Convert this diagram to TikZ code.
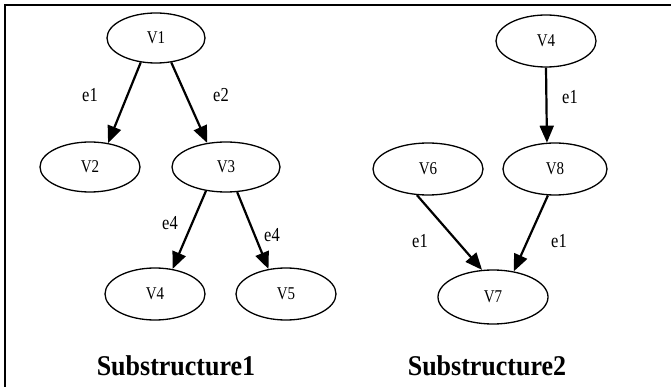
\documentclass[tikz,border=0pt]{standalone}
\usepackage{fontspec}
\setmainfont{Liberation Serif}
\usepackage{graphicx}
\usetikzlibrary{shapes.geometric,arrows.meta}
\newcommand{\vst}[1]{\scalebox{1}[1.2]{#1}}
\newcommand{\vtt}[1]{\scalebox{1}[1.1]{#1}}
\tikzset{
  vnode/.style={ellipse, draw, line width=1.3pt, inner sep=0pt, minimum width=100pt, minimum height=52pt, font=\fontsize{15}{15}\selectfont},
  edgearrow/.style={line width=2.2pt, -{Triangle[length=17pt,width=14pt]}},
  elabel/.style={font=\fontsize{16.5}{16.5}\selectfont, inner sep=0pt},
  title/.style={font=\fontsize{26}{26}\selectfont\bfseries, inner sep=0pt},
  frameline/.style={line width=2.2pt}
}
\begin{document}
\begin{tikzpicture}[x=1pt,y=-1pt]
\useasboundingbox (0,0) rectangle (671,387);
% frame
\coordinate (ftl) at (5,5);
\coordinate (ftr) at (671,5);
\coordinate (fbl) at (5,387);
\draw[frameline] (ftr) -- (ftl) -- (fbl);

% Substructure 1
\node[vnode, minimum width=98pt, minimum height=50pt] (v1) at (156,38) {\vst{V1}};
\node[vnode, minimum height=50pt] (v2) at (90,167) {\vst{V2}};
\node[vnode, minimum width=108pt, minimum height=50pt] (v3) at (226,167) {\vst{V3}};
\node[vnode] (v4a) at (155,294) {\vst{V4}};
\node[vnode] (v5) at (286,294) {\vst{V5}};

\draw[edgearrow] (v1.238) -- (v2.53);
\draw[edgearrow] (v1.302) -- (v3.128);
\draw[edgearrow] (v3.230) -- (v4a.55);
\draw[edgearrow] (v3.294) -- (v5.125);

\node[elabel] (l1) at (90,95) {\vst{e1}};
\node[elabel] (l2) at (221,95) {\vst{e2}};
\node[elabel] (l3) at (170,223) {\vst{e4}};
\node[elabel] (l4) at (272,235) {\vst{e4}};

% Substructure 2
\node[vnode] (v4b) at (546,41) {\vst{V4}};
\node[vnode, minimum width=110pt] (v6) at (428,169) {\vst{V6}};
\node[vnode, minimum width=104pt] (v8) at (555,169) {\vst{V8}};
\node[vnode, minimum width=110pt, minimum height=54pt] (v7) at (493,297) {\vst{V7}};

\draw[edgearrow] (v4b.270) -- (v8.107);
\draw[edgearrow] (v6.247) -- (v7.112);
\draw[edgearrow] (v8.255) -- (v7.51);

\node[elabel] (l5) at (570,97) {\vst{e1}};
\node[elabel] (l6) at (420,241) {\vst{e1}};
\node[elabel] (l7) at (559,241) {\vst{e1}};

\node[title] (t1) at (176,366) {\vtt{Substructure1}};
\node[title] (t2) at (487,366) {\vtt{Substructure2}};
\end{tikzpicture}
\end{document}
